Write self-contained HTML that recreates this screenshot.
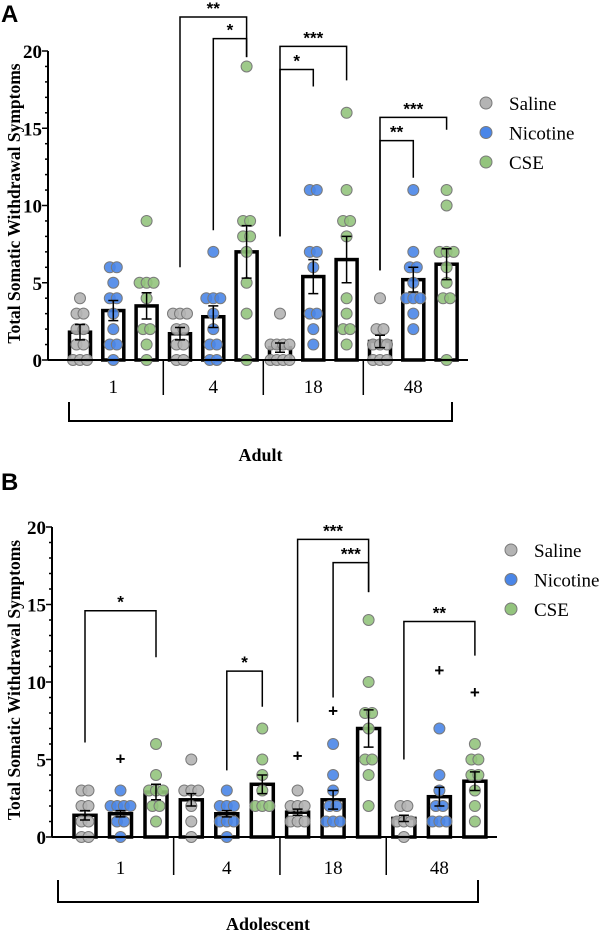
<!DOCTYPE html>
<html><head><meta charset="utf-8"><style>
html,body{margin:0;padding:0;background:#fff;}
svg{display:block;}
</style></head><body>
<svg id="fig" width="600" height="934" viewBox="0 0 600 934" xmlns="http://www.w3.org/2000/svg" font-family="Liberation Serif, serif">
<text x="1" y="22" font-family="Liberation Sans, sans-serif" font-weight="bold" font-size="24">A</text>
<text x="1" y="490" font-family="Liberation Sans, sans-serif" font-weight="bold" font-size="24">B</text>
<g id="pa"></g>
<g id="pb"></g>
</svg>
<script>
const groups = ["1","4","18","48"];
const seriesNames = ["Saline","Nicotine","CSE"];
const seriesColors = ["#b4b4b4","#4a86e8","#93c47d"];
// Panel A (Adult)
const adultMeans = [[1.8,3.2,3.5],[1.7,2.8,7.0],[0.8,5.4,6.5],[1.2,5.2,6.2]];
const adultSem = [[0.5,0.65,0.85],[0.4,0.7,1.7],[0.3,1.1,1.5],[0.4,0.8,1.0]];
const adultPoints = [
 [[0,0,0,1,1,2,2,3,3,4],[0,1,1,2,3,4,4,5,6,6],[0,1,2,2,4,5,5,5,9]],
 [[0,0,1,1,2,2,3,3,3],[0,0,1,1,2,3,4,4,4,7],[0,3,5,7,8,8,9,9,19]],
 [[0,0,0,0,1,1,1,1,3],[1,2,3,3,6,7,7,11,11],[1,2,2,3,4,8,9,9,11,16]],
 [[0,0,0,1,1,1,2,2,4],[2,3,4,4,4,5,6,6,7,11],[0,4,4,5,6,7,7,7,10,11]]
];
const adultPlus = [];
// brackets: [groupIndex, fromSeries, toSeries, topValue, leftBottom, rightBottom, label]
const adultBrackets = [
 [1,0,2,22.2,6.0,19.6,"**"],[1,1,2,20.8,8.4,19.6,"*"],
 [2,0,2,20.3,8.0,18.1,"***"],[2,0,1,18.8,8.0,17.7,"*"],
 [3,0,2,15.7,5.8,14.9,"***"],[3,0,1,14.2,5.8,11.8,"**"]
];
// Panel B (Adolescent)
const adolMeans = [[1.4,1.5,2.9],[2.4,1.5,3.4],[1.6,2.4,7.0],[1.2,2.6,3.6]];
const adolSem = [[0.3,0.2,0.5],[0.4,0.2,0.6],[0.2,0.6,1.2],[0.2,0.6,0.6]];
const adolPoints = [
 [[0,0,1,1,2,2,3,3],[0,1,1,2,2,2,2,3],[1,2,2,3,3,3,4,6]],
 [[0,1,2,3,3,3,5],[0,1,1,1,2,2,2,3],[2,2,2,3,4,5,7]],
 [[1,1,1,2,2,2,3],[1,1,1,2,2,3,4,6],[2,4,5,5,7,8,8,10,14]],
 [[0,1,1,1,2,2],[1,1,1,2,2,3,4,7],[1,2,3,4,4,5,5,6]]
];
// plus marks: [groupIndex, series, value]
const adolPlus = [[0,1,5.0],[2,0,5.2],[2,1,8.1],[3,1,10.7],[3,2,9.3]];
const adolBrackets = [
 [0,0,2,14.6,6.1,11.6,"*"],[1,1,2,10.7,4.3,8.4,"*"],
 [2,0,2,19.2,7.4,15.8,"***"],[2,1,2,17.7,9.0,15.8,"***"],
 [3,0,2,13.9,5.0,11.7,"**"]
];
const yTicks = [0,5,10,15,20];

const NS="http://www.w3.org/2000/svg";
function mk(parent,tag,attrs){const e=document.createElementNS(NS,tag);for(const k in attrs)e.setAttribute(k,attrs[k]);parent.appendChild(e);return e;}

function drawPanel(g,cfg,means,sems,points,brackets,pluses,title){
  const y=v=>cfg.y0-v*cfg.ppu;
  const x=(gi,si)=>cfg.first+gi*cfg.gStep+si*cfg.sStep;
  let ax=mk(g,"line",{x1:cfg.axX,y1:y(0),x2:cfg.axX,y2:y(20),stroke:"#000","stroke-width":2});
  
  
  for(let v=0;v<=20;v++){
    const major=v%5===0;
    let t=mk(g,"line",{x1:cfg.axX-(major?6:3),y1:y(v),x2:cfg.axX,y2:y(v),stroke:"#000","stroke-width":1.5});
    
    
  }
  yTicks.forEach(v=>{
    let t=mk(g,"text",{x:cfg.axX-6,y:y(v)+7,"text-anchor":"end","font-weight":"bold","font-size":19});
    t.textContent=v;
    
    
  });
  let yt=mk(g,"text",{x:0,y:0,transform:`translate(${cfg.titleX},${(y(0)+y(20))/2+cfg.titleShift}) rotate(-90)`,"text-anchor":"middle","font-weight":"bold","font-size":17.5});
  yt.textContent="Total Somatic Withdrawal Symptoms";
  
  
  means.forEach((row,gi)=>row.forEach((m,si)=>{
    const cx=x(gi,si),bw=cfg.bw;
    let b=mk(g,"rect",{x:cx-bw/2,y:y(m),width:bw,height:y(0)-y(m),fill:"#fff",stroke:"#000","stroke-width":3.5});
    
    
  }));
  points.forEach((row,gi)=>row.forEach((pts,si)=>{
    const counts={};pts.forEach(v=>counts[v]=(counts[v]||0)+1);
    const seen={};
    pts.forEach(v=>{
      const n=counts[v],k=(seen[v]=(seen[v]||0)+1)-1;
      const off=(k-(n-1)/2)*Math.min(7,cfg.bw/Math.max(1,n-1)*0.9);
      let c=mk(g,"circle",{cx:x(gi,si)+off,cy:y(v),r:5.5,fill:seriesColors[si],stroke:"#7a7a7a","stroke-width":1,"fill-opacity":0.9});
      
      
    });
  }));
  means.forEach((row,gi)=>row.forEach((m,si)=>{
    const cx=x(gi,si),s=sems[gi][si];
    let e=mk(g,"path",{d:`M${cx},${y(m-s)}V${y(m+s)}M${cx-5},${y(m+s)}H${cx+5}M${cx-5},${y(m-s)}H${cx+5}`,stroke:"#000","stroke-width":1.5,fill:"none"});
    
    
  }));
  let xa=mk(g,"line",{x1:cfg.axX,y1:y(0),x2:cfg.axEnd,y2:y(0),stroke:"#000","stroke-width":2});
  
  
  groups.forEach((gn,gi)=>{
    if(gi>0){
      const dx=(x(gi-1,2)+x(gi,0))/2;
      let d=mk(g,"line",{x1:dx,y1:y(0),x2:dx,y2:y(0)+cfg.divLen,stroke:"#000","stroke-width":1.5});
      
      
    }
    let t=mk(g,"text",{x:x(gi,1),y:y(0)+cfg.labOff,"text-anchor":"middle","font-size":19});
    t.textContent=gn;
    
    
  });
  let bb=mk(g,"path",{d:`M${cfg.brL},${cfg.brTop}V${cfg.brY}H${cfg.brR}V${cfg.brTop}`,stroke:"#000","stroke-width":2,fill:"none"});
  
  
  let at=mk(g,"text",{x:(cfg.brL+cfg.brR)/2,y:cfg.titleY,"text-anchor":"middle","font-weight":"bold","font-size":18});
  at.textContent=title;
  
  
  brackets.forEach(bk=>{
    const [gi,a,b,top,lb,rb,lab]=bk;
    const xl=x(gi,a),xr=x(gi,b);
    let p=mk(g,"path",{d:`M${xl},${y(lb)}V${y(top)}H${xr}V${y(rb)}`,stroke:"#000","stroke-width":1.5,fill:"none"});
    
    
    let t=mk(g,"text",{x:(xl+xr)/2,y:y(top)-3,"text-anchor":"middle","font-weight":"bold","font-size":17,"font-family":"Liberation Sans, sans-serif"});
    t.textContent=lab;
    
    
  });
  pluses.forEach(pl=>{
    const [gi,si,v]=pl;
    let t=mk(g,"text",{x:x(gi,si),y:y(v)+5,"text-anchor":"middle","font-weight":"bold","font-size":17,"font-family":"Liberation Sans, sans-serif"});
    t.textContent="+";
    
    
  });
  seriesNames.forEach((n,si)=>{
    const ly=cfg.legY+si*29.5;
    let c=mk(g,"circle",{cx:cfg.legX,cy:ly,r:6,fill:seriesColors[si],stroke:"#7a7a7a","stroke-width":1});
    
    
    let t=mk(g,"text",{x:cfg.legX+23,y:ly+7,"font-size":19});
    t.textContent=n;
    
    
  });
}
drawPanel(document.getElementById("pa"),
 {y0:360,ppu:15.45,axX:48,axEnd:468,first:80,gStep:100,sStep:33.3,bw:21,divLen:35,labOff:33,brL:69,brR:452,brY:421,brTop:402,titleY:461,titleX:20,titleShift:-2,legX:486,legY:103},
 adultMeans,adultSem,adultPoints,adultBrackets,adultPlus,"Adult");
drawPanel(document.getElementById("pb"),
 {y0:837,ppu:15.5,axX:52,axEnd:497,first:85,gStep:106.3,sStep:35.5,bw:22,divLen:38,labOff:37,brL:58,brR:478,brY:902,brTop:880,titleY:930,titleX:20,titleShift:-2,legX:511,legY:550},
 adolMeans,adolSem,adolPoints,adolBrackets,adolPlus,"Adolescent");
</script>
</body></html>
